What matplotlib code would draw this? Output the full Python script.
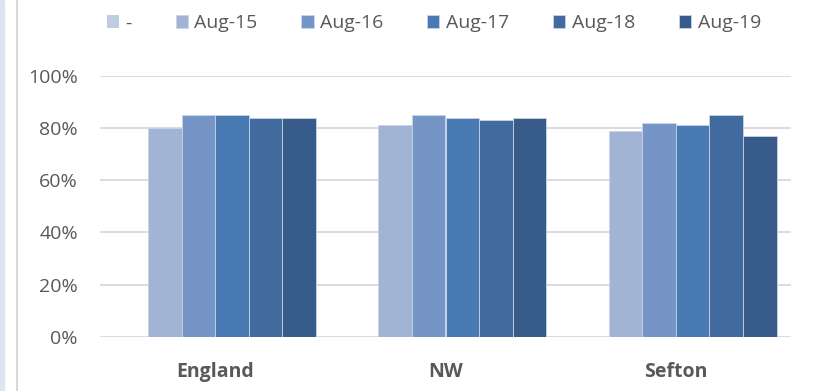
import numpy as np
import matplotlib; matplotlib.use('Agg')
import matplotlib.pyplot as plt
from matplotlib.patches import Rectangle
from matplotlib.lines import Line2D

plt.rcParams['font.family'] = ['Open Sans', 'DejaVu Sans']

areas = ['England', 'NW', 'Sefton']
series = ['-', 'Aug-15', 'Aug-16', 'Aug-17', 'Aug-18', 'Aug-19']
dash = [0, 0, 0]
aug15 = [80, 81, 79]
aug16 = [85, 85, 82]
aug17 = [85, 84, 81]
aug18 = [84, 83, 85]
aug19 = [84, 84, 77]
colors = ['#c0cce1', '#a2b4d4', '#7595c6', '#4a7ab4', '#416b9f', '#375c8a']

grey = '#595959'
fig = plt.figure(figsize=(8.17, 3.91), dpi=100)
ax = fig.add_axes([100/817, 1-337/391, 691/817, (337-75.7)/391])

x = np.arange(len(areas))
w = 0.146
vals = [dash, aug15, aug16, aug17, aug18, aug19]
for i, (name, v) in enumerate(zip(series, vals)):
    ax.bar(x + (i-2.5)*w, np.array(v)/100, w, color=colors[i], label=name,
           edgecolor='#c8d4e8', linewidth=0 if i == 0 else 0.6, zorder=3)

ax.set_xlim(-0.5, 2.5)
ax.set_ylim(0, 1.0)
ax.set_yticks(np.arange(0, 1.01, 0.2))
ax.set_yticklabels([f'{int(t*100)}%' for t in np.arange(0, 1.01, 0.2)])
ax.set_xticks(x)
ax.set_xticklabels(areas, fontweight='bold', fontsize=15)
ax.grid(axis='y', color='#d9d9d9', lw=1.3, zorder=0)
for s in ax.spines.values():
    s.set_visible(False)
ax.tick_params(length=0, colors=grey, labelsize=14)
ax.tick_params(axis='x', pad=18)
ax.tick_params(axis='y', pad=16)

# left edge of the page frame
fig.patches.append(Rectangle((0, 0), 4/817, 1, transform=fig.transFigure,
                             color='#dce6f2', zorder=0))
fig.lines.append(Line2D([16.5/817]*2, [0, 1], transform=fig.transFigure,
                        color='#d9d9d9', lw=1.5))

leg = fig.legend(*ax.get_legend_handles_labels(), loc='center', ncol=6,
                 bbox_to_anchor=(434/817, 1-23.5/391), frameon=False, fontsize=14,
                 handlelength=0.62, handleheight=0.62, handletextpad=0.35,
                 columnspacing=2.25, labelcolor=grey)

plt.savefig('out.png', dpi=100)
plt.close()
